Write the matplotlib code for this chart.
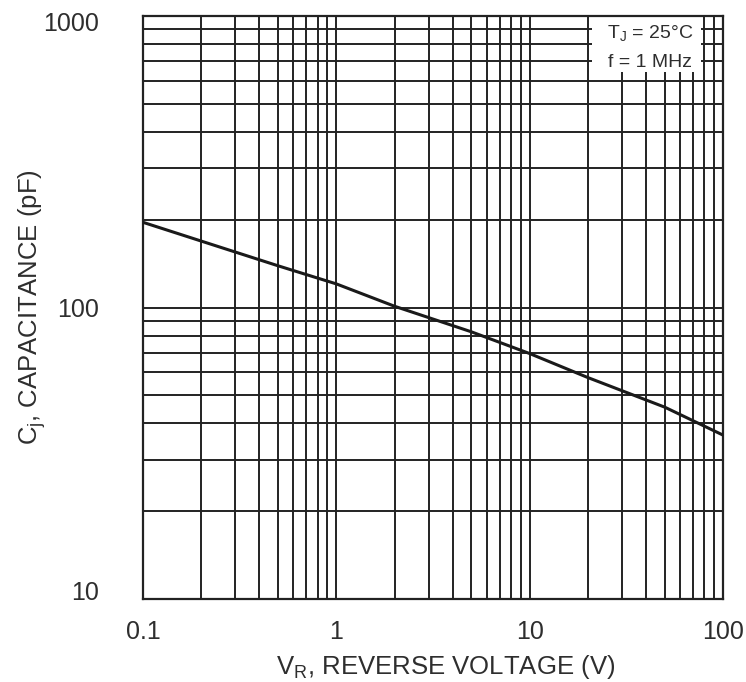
import matplotlib
matplotlib.use("Agg")
import matplotlib.pyplot as plt
import matplotlib.transforms as mtransforms
from matplotlib.patches import Rectangle
from matplotlib.ticker import LogLocator, NullFormatter, FixedLocator, FixedFormatter

plt.rcParams['font.family'] = ['Liberation Sans', 'DejaVu Sans']
plt.rcParams['mathtext.fontset'] = 'custom'
plt.rcParams['mathtext.rm'] = 'Liberation Sans'
plt.rcParams['mathtext.it'] = 'Liberation Sans'

# Data
vr = [0.1, 0.2, 0.5, 1, 2, 5, 10, 20, 50, 100]
cj = [196, 169, 139, 120.5, 101, 82.5, 69.5, 57.5, 45.5, 36.5]

x_ticks = [0.1, 1, 10, 100]
x_ticklabels = ['0.1', '1', '10', '100']
y_ticks = [10, 100, 1000]
y_ticklabels = ['10', '100', '1000']

txt = '#2e2e2e'
fig = plt.figure(figsize=(7.46, 6.82), dpi=100)
ax = fig.add_axes([143/746, 1-599/682, (723-143)/746, (599-16)/682])
ax.set_xscale('log')
ax.set_yscale('log')
ax.set_xlim(0.1, 100)
ax.set_ylim(10, 1000)

ax.xaxis.set_major_locator(FixedLocator(x_ticks))
ax.xaxis.set_major_formatter(FixedFormatter(x_ticklabels))
ax.yaxis.set_major_locator(FixedLocator(y_ticks))
ax.yaxis.set_major_formatter(FixedFormatter(y_ticklabels))
ax.xaxis.set_minor_locator(LogLocator(base=10, subs=range(2, 10)))
ax.yaxis.set_minor_locator(LogLocator(base=10, subs=range(2, 10)))
ax.xaxis.set_minor_formatter(NullFormatter())
ax.yaxis.set_minor_formatter(NullFormatter())

ax.grid(True, which='both', color='#222222', linewidth=1.4)
ax.tick_params(which='both', length=0, labelsize=18, colors=txt)
ax.tick_params(axis='y', pad=32)
ax.tick_params(axis='x', pad=15)
for s in ax.spines.values():
    s.set_color('#222222')
    s.set_linewidth(1.6)

# small vertical nudges of the end labels, as in the reference
fig.canvas.draw()
ylabs = ax.get_yticklabels()
ylabs[0].set_transform(ylabs[0].get_transform() + mtransforms.ScaledTranslation(0, 6/72, fig.dpi_scale_trans))
ylabs[-1].set_transform(ylabs[-1].get_transform() + mtransforms.ScaledTranslation(0, -4/72, fig.dpi_scale_trans))

ax.plot(vr, cj, color='#1a1a1a', linewidth=2.2, zorder=3)

ax.add_patch(Rectangle((0.774, 0.904), 0.188, 0.096, transform=ax.transAxes,
                       facecolor='white', edgecolor='none', zorder=2.5))
ax.text(0.874, 0.971, 'T$_\\mathregular{J}$ = 25°C', transform=ax.transAxes,
        ha='center', va='center', fontsize=14, color=txt, zorder=4)
ax.text(0.874, 0.921, 'f = 1 MHz', transform=ax.transAxes,
        ha='center', va='center', fontsize=14, color=txt, zorder=4)

ax.set_xlabel('V$_\\mathregular{R}$, REVERSE VOLTAGE (V)', fontsize=18.5, color=txt, labelpad=8)
ax.xaxis.set_label_coords(0.522, -0.092)
ax.set_ylabel('C$_\\mathregular{j}$, CAPACITANCE (pF)', fontsize=18.5, color=txt, labelpad=-4)

fig.savefig('out.png', dpi=100)
